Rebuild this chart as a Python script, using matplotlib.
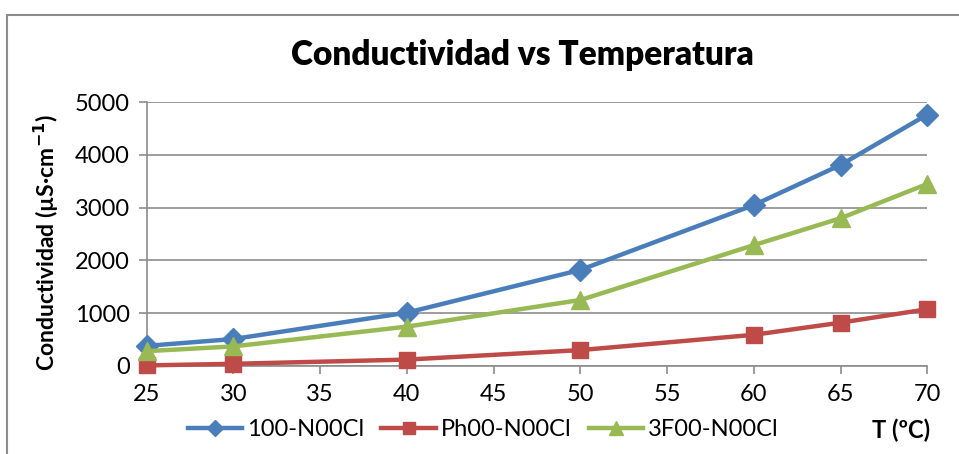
import matplotlib
matplotlib.use("Agg")
import matplotlib.pyplot as plt
from matplotlib.patches import Rectangle

plt.rcParams['font.family'] = ['Lato', 'DejaVu Sans']

temps = [25, 30, 40, 50, 60, 65, 70]
s_100 = [380, 510, 1010, 1820, 3050, 3810, 4765]
s_ph = [10, 40, 120, 300, 590, 820, 1075]
s_3f = [280, 370, 745, 1250, 2290, 2800, 3450]
names = ['100-N00Cl', 'Ph00-N00Cl', '3F00-N00Cl']
x_ticks = [25, 30, 35, 40, 45, 50, 55, 60, 65, 70]
y_ticks = [0, 1000, 2000, 3000, 4000, 5000]

fig = plt.figure(figsize=(9.59, 4.54), dpi=100)
ax = fig.add_axes([0.153, 0.194, 0.814, 0.581])

# outer chart border
fig.patches.append(Rectangle((7/959, -0.1), 1.2, 1 - 15/454 + 0.1, transform=fig.transFigure,
                             fill=False, edgecolor='#8c8c8c', linewidth=1.5))

ax.plot(temps, s_100, color='#4A7EBB', lw=3.2, marker='D', ms=11, label=names[0], clip_on=False, zorder=3)
ax.plot(temps, s_ph, color='#BE4B48', lw=3.2, marker='s', ms=12, label=names[1], clip_on=False, zorder=3)
ax.plot(temps, s_3f, color='#98B954', lw=3.2, marker='^', ms=13, label=names[2], clip_on=False, zorder=3)

ax.set_xlim(25, 70)
ax.set_ylim(0, 5000)
ax.set_xticks(x_ticks)
ax.set_yticks(y_ticks)
ax.grid(axis='y', color='#8c8c8c', lw=1.2)
ax.set_axisbelow(True)
for s in ['top', 'right']:
    ax.spines[s].set_visible(False)
for s in ['left', 'bottom']:
    ax.spines[s].set_color('#8c8c8c')
    ax.spines[s].set_linewidth(1.2)
ax.tick_params(axis='both', colors='#8c8c8c', labelcolor='black', labelsize=17, length=6, width=1.2)
ax.tick_params(axis='x', pad=7)
ax.tick_params(axis='y', pad=6)

fig.text(0.545, 1 - 55/454, 'Conductividad vs Temperatura', fontsize=24, fontweight='heavy',
         ha='center', va='center')
ax.set_ylabel(r'Conductividad (µS·cm$^{\mathbf{-1}}$)', fontsize=16.5, fontweight='bold')
ax.yaxis.set_label_coords(-0.11, 0.466)
fig.text(930/959, 1 - 430/454, 'T (ºC)', fontsize=17, fontweight='bold', ha='right', va='center')

fig.legend(loc='center', bbox_to_anchor=(483/959, 1 - 430/454), ncol=3, frameon=False, fontsize=17,
           handlelength=2.3, columnspacing=0.75, handletextpad=0.2, markerscale=0.75)

fig.savefig('out.png', dpi=100)
